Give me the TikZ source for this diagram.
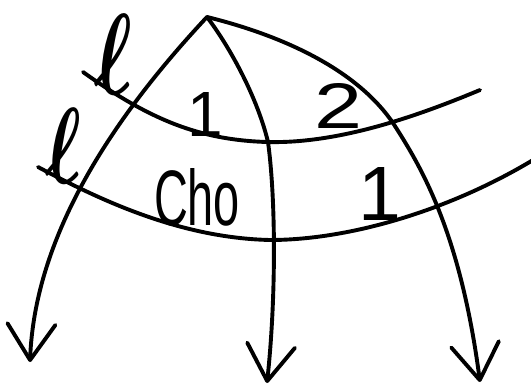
\documentclass[tikz,border=0pt]{standalone}
\usepackage{amsmath}
\usepackage{bm}
\usepackage{fontspec}
\usepackage{graphicx}
\setmainfont{Liberation Sans}
\usetikzlibrary{arrows.meta}
\begin{document}
\begin{tikzpicture}[x=1pt,y=-1pt,line width=3.9pt,line cap=round,line join=round,
  arrowcurve/.style={-{Straight Barb[length=36pt,width=48pt,round]}},
  lbl/.style={inner sep=0pt,outer sep=0pt}]
\useasboundingbox (0,0) rectangle (531,388);
% points
\coordinate (apex) at (207,17);
\coordinate (ltip) at (30,362);
\coordinate (mx) at (268,142);
\coordinate (mtip) at (267,383);
\coordinate (rx) at (393,123);
\coordinate (rtip) at (480,382);
\coordinate (u0) at (83,72);
\coordinate (um) at (267,142);
\coordinate (u1) at (480,90);
\coordinate (w0) at (38,167);
\coordinate (wm) at (270,240);
\coordinate (w1) at (533,160);
% arrows from apex
\draw[arrowcurve] (apex) .. controls (120,110) and (35,230) .. (ltip);
\draw[arrowcurve] (apex) .. controls (232,50) and (258,100) .. (mx)
                         .. controls (276,200) and (276,300) .. (mtip);
\draw[arrowcurve] (apex) .. controls (260,30) and (350,60) .. (rx)
                         .. controls (420,165) and (460,230) .. (rtip);
% cross curves
\draw (u0) .. controls (150,120) and (200,140) .. (um)
           .. controls (340,144) and (420,115) .. (u1);
\draw (w0) .. controls (100,200) and (180,238) .. (wm)
           .. controls (350,240) and (450,210) .. (w1);
% labels
\node[lbl,anchor=south] (ellA) at (114,94) {\resizebox{38pt}{80pt}{$\bm{\ell}$}};
\node[lbl,anchor=south] (ellB) at (64,183) {\resizebox{36pt}{75pt}{$\bm{\ell}$}};
\node[lbl,anchor=south] (oneA) at (205,136) {\resizebox{!}{44pt}{1}};
\node[lbl,anchor=south west] (two) at (314,128) {\resizebox{48pt}{45pt}{2}};
\node[lbl,anchor=south west] (cho) at (154,226) {\resizebox{86pt}{57pt}{Cho}};
\node[lbl,anchor=south] (oneB) at (380,220) {\resizebox{!}{53pt}{1}};
\end{tikzpicture}
\end{document}
